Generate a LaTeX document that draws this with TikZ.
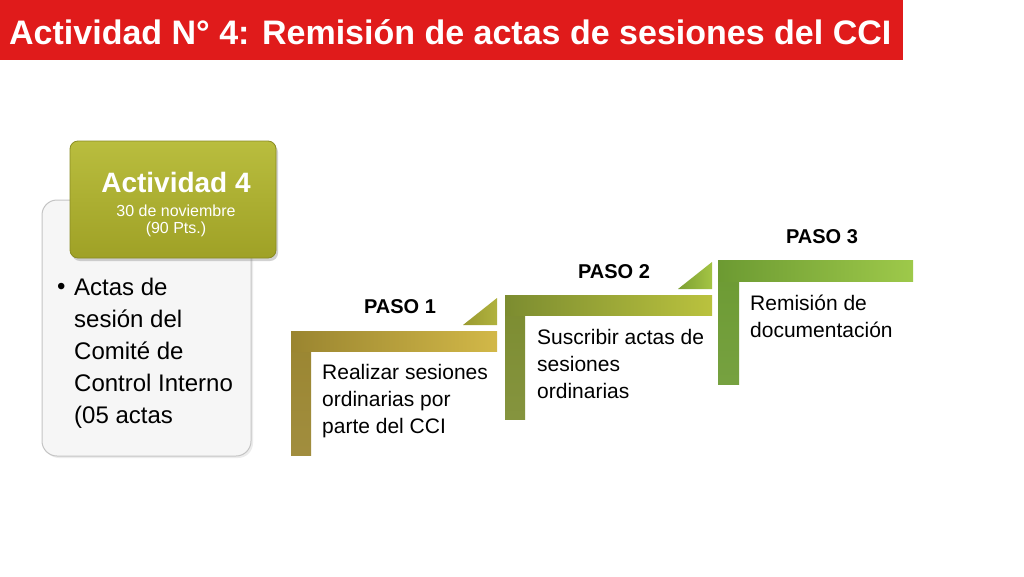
\documentclass[tikz,border=0pt]{standalone}
\usepackage{fontspec}
\setmainfont{Liberation Sans}
\usetikzlibrary{shadows}
\definecolor{titlered}{HTML}{E01B1B}
\definecolor{graybg}{HTML}{F6F6F6}
\definecolor{grayline}{HTML}{C4C4C4}
\definecolor{olivetop}{HTML}{B9BD3E}
\definecolor{olivebot}{HTML}{9FA126}
\definecolor{oliveline}{HTML}{8A8C22}
\definecolor{pa}{HTML}{9A8530}
\definecolor{pb}{HTML}{D2B848}
\definecolor{qa}{HTML}{7C8C30}
\definecolor{qb}{HTML}{BAC23E}
\definecolor{ra}{HTML}{6C9A32}
\definecolor{rb}{HTML}{9EC94A}
\definecolor{ta}{HTML}{9A9A30}
\definecolor{tb}{HTML}{B0B23E}
\definecolor{ua}{HTML}{7DA032}
\definecolor{ub}{HTML}{A4C444}
\tikzset{
  bodytxt/.style={anchor=base west,inner sep=0pt,font=\fontsize{24}{32}\selectfont,text=black},
  steptxt/.style={anchor=base west,inner sep=0pt,font=\fontsize{21}{27}\selectfont,text=black,align=left},
  pasolbl/.style={anchor=base,inner sep=0pt,font=\bfseries\fontsize{20}{24}\selectfont,text=black},
  whitetxt/.style={anchor=base,inner sep=0pt,text=white},
}
\begin{document}
\begin{tikzpicture}[x=1pt,y=-1pt]
\useasboundingbox (0,0) rectangle (1024,576);
\fill[white] (0,0) rectangle (1024,576);
% title
\fill[titlered] (0,0) rectangle (903,60);
\node[whitetxt,font=\bfseries\fontsize{34}{40}\selectfont,anchor=base west] (title) at (9,44) {Actividad N° 4: Remisión de actas de sesiones del CCI};
% left gray box
\draw[grayline,fill=graybg,rounded corners=15pt,line width=1pt,drop shadow={opacity=0.15,shadow xshift=2pt,shadow yshift=-2pt}] (42,200) rectangle (251,456);
\node[bodytxt] (b0) at (57,294) {•};
\node[bodytxt,align=left,anchor=north west] (body) at (74,278) {Actas de\\sesión del\\Comité de\\Control Interno\\(05 actas};
% olive box
\shade[top color=olivetop,bottom color=olivebot,draw=oliveline,line width=0.8pt,rounded corners=8pt,drop shadow={opacity=0.35,shadow xshift=2pt,shadow yshift=-3pt}] (70,141) rectangle (276,258);
\node[whitetxt,font=\bfseries\fontsize{28}{32}\selectfont] (act) at (176,192) {Actividad 4};
\node[whitetxt,font=\fontsize{16}{18}\selectfont] (fecha) at (176,216) {30 de noviembre};
\node[whitetxt,font=\fontsize{16}{18}\selectfont] (pts) at (176,233) {(90 Pts.)};
% PASO 1
\shade[top color=pa,bottom color=pa!93!white] (291,331) rectangle (311,455);
\shade[left color=pa,right color=pb] (291,331) rectangle (497,351);
\shade[left color=ta,right color=tb] (463,325) -- (497,325) -- (497,298) -- cycle;
\node[pasolbl] (p1) at (400,313) {PASO 1};
\node[steptxt,anchor=north west] (t1) at (322,364) {Realizar sesiones\\ordinarias por\\parte del CCI};
% PASO 2
\shade[top color=qa,bottom color=qa!93!white] (505,295) rectangle (525,419);
\shade[left color=qa,right color=qb] (505,295) rectangle (712,315);
\shade[left color=ua,right color=ub] (678,289) -- (712,289) -- (712,262) -- cycle;
\node[pasolbl] (p2) at (614,278) {PASO 2};
\node[steptxt,anchor=north west] (t2) at (537,329) {Suscribir actas de\\sesiones\\ordinarias};
% PASO 3
\shade[top color=ra,bottom color=ra!93!white] (718,260) rectangle (739,384);
\shade[left color=ra,right color=rb] (718,260) rectangle (913,281);
\node[pasolbl] (p3) at (822,243) {PASO 3};
\node[steptxt,anchor=north west] (t3) at (750,295) {Remisión de\\documentación};
\end{tikzpicture}
\end{document}
